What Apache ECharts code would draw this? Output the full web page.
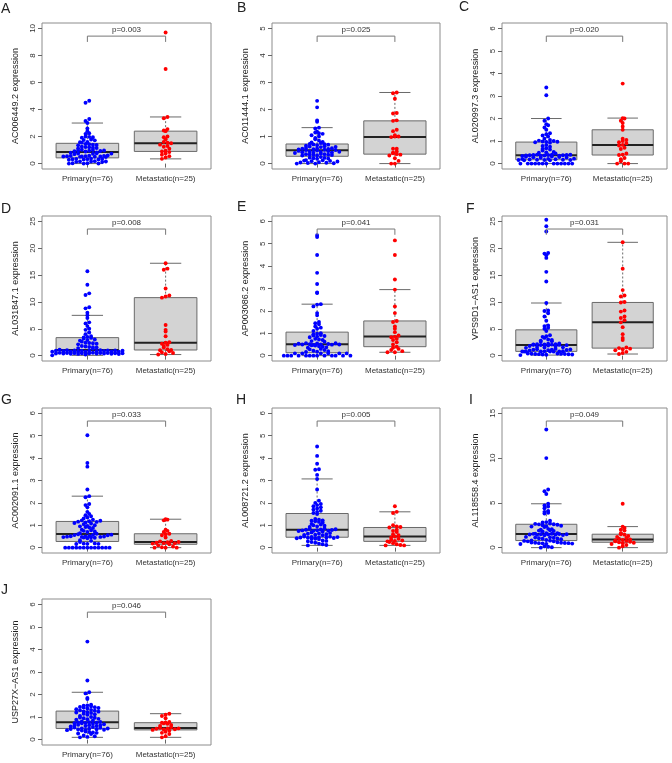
<!DOCTYPE html>
<html><head><meta charset="utf-8">
<script src="https://cdn.jsdelivr.net/npm/echarts@6/dist/echarts.min.js"></script>
<style>html,body{margin:0;padding:0;background:#fff}#c{width:672px;height:763px}</style>
</head><body><div id="c"></div>
<script>
// ---------------- DATA ----------------
const groupLabels = ['Primary(n=76)', 'Metastatic(n=25)'];
const panelLetters = ['A','B','C','D','E','F','G','H','I','J'];
const geneNames = ['AC006449.2','AC011444.1','AL020997.3','AL031847.1','AP003086.2','VPS9D1\u2212AS1','AC002091.1','AL008721.2','AL118558.4','USP27X\u2212AS1'];
const pValues = ['p=0.003','p=0.025','p=0.020','p=0.008','p=0.041','p=0.031','p=0.033','p=0.005','p=0.049','p=0.046'];
const yTicks = [
  [0,2,4,6,8,10],[0,1,2,3,4,5],[0,1,2,3,4,5,6],
  [0,5,10,15,20,25],[0,1,2,3,4,5,6],[0,5,10,15,20,25],
  [0,1,2,3,4,5,6],[0,1,2,3,4,5,6],[0,5,10,15],
  [0,1,2,3,4,5,6]
];

const primaryA = [0,0,0.01,0.02,0.03, 0.12,0.13,0.15,0.15,0.16,0.18, 0.28,0.3,0.31,0.32,0.33,0.34,0.35,0.37,
0.48,0.5,0.51,0.52,0.53,0.53,0.54,0.55,0.56,0.57,0.58,0.6, 0.7,0.72,0.74,0.75,0.77,0.8,0.83,
0.9,0.92,0.93,0.95,0.96,0.97,1.0,1.02, 1.12,1.15,1.18,1.2,1.22,1.25, 1.35,1.38,1.4,1.43,1.45,
1.55,1.58,1.6,1.72,1.75,1.78,1.92,1.95,1.98,2.0,2.2,2.25,2.4,2.6,3.0,3.15,3.3,4.5,4.65];
const metastaticA = [9.7,7.0,3.45,3.35,2.55,2.45,2.4,2.0,1.95,1.8,1.6,1.55,1.5,1.4,1.3,1.25,1.1,0.95,0.9,0.85,0.75,0.65,0.55,0.45,0.35];

const primaryB = [0,0,0.01,0.02,0.03,0.04,0.05, 0.08,0.09,0.1,0.11,0.12,0.13, 0.18,0.19,0.2,0.21,0.22,0.24,
0.3,0.31,0.32,0.32,0.33,0.34,0.35,0.35,0.36, 0.39,0.4,0.41,0.42,0.43,0.44,0.45,0.46,0.47,0.48,
0.5,0.5,0.51,0.52,0.53,0.54,0.55,0.56,0.57,0.58, 0.61,0.62,0.63,0.64,0.66,0.68, 0.7,0.71,0.72,0.73,
0.76,0.78,0.8,0.85,0.9,0.95,1.0,1.05,1.1,1.12,1.15,1.18,1.3,1.33,1.55,1.6,2.08,2.32];
const metastaticB = [2.63,2.6,2.4,1.87,1.85,1.6,1.58,1.25,1.2,1.05,1.0,1.0,0.98,0.55,0.55,0.45,0.4,0.38,0.35,0.33,0.3,0.2,0.1,0,0];

const primaryC = [0,0,0,0,0,0,0,0,0,0,0,0,0, 0.15,0.15,0.16,0.16,0.16,0.17,
0.17,0.18,0.19,0.2,0.21,0.22, 0.26,0.27,0.28,0.29,0.3,0.31,
0.34,0.35,0.35,0.36,0.36,0.37,0.37,0.38,0.38,0.38,0.39,0.39,0.4,
0.45,0.48,0.5,0.52, 0.58,0.62,0.65,0.68, 0.75,0.78,0.82, 0.93,0.95,0.96,0.97,0.98,1.0,
1.02,1.05,1.1,1.2,1.25,1.3,1.35,1.5,1.6,1.7,1.75,1.9,2.0,3.03,3.38];
const metastaticC = [3.55,2.02,2.0,1.9,1.8,1.65,1.5,1.1,1.05,1.0,0.95,0.9,0.83,0.8,0.7,0.65,0.45,0.4,0.38,0.25,0.2,0.1,0,0,0];

const primaryD = [0.05,0.2,0.3,0.32,0.35,0.36,0.38,0.4,0.4,0.41,0.42,0.43,0.44,0.45,0.46,0.47,0.48,0.5,0.52,0.55,
0.72,0.74,0.75,0.76,0.78,0.8, 0.85,0.87,0.88,0.9,0.92,0.93,0.94,0.95,0.96,0.98,1.0,1.02,
1.1,1.3,1.4,1.5,1.55,1.6,1.7,1.8, 2.1,2.2,2.3,2.35,2.4,2.6, 2.8,2.9,3.0,3.2,3.3,
3.4,3.5,3.6,4.0,4.3,4.8,5.0,5.5,6.0,6.2,7.0,7.5,8.0,8.8,9.0,11.3,11.6,13.2,15.7];
const metastaticD = [17.2,16.2,16.0,12.5,11.2,11.0,10.8,5.7,4.8,4.5,3.6,2.5,2.4,2.2,2.0,1.8,1.5,1.2,1.05,1.0,0.8,0.6,0.5,0.3,0.2];

const primaryE = [0,0,0,0,0,0,0,0,0,0,0,0,0, 0.1,0.1,0.1,0.1,0.1,0.1, 0.16,0.18,
0.2,0.22,0.25,0.28,0.3, 0.35,0.37,0.4,0.42,
0.45,0.46,0.47,0.48,0.49,0.5,0.5,0.5,0.51,0.52,0.53,0.54,0.55,0.56,
0.62,0.65,0.7,0.72,0.75, 0.82,0.85,0.88,0.9,0.92,0.95,0.98,1.0,
1.1,1.2,1.25,1.3,1.4,1.45,1.5,1.8,1.9,2.2,2.28,2.3,2.8,2.82,3.2,3.7,4.5,5.3,5.38];
const metastaticE = [5.15,4.5,3.4,2.95,2.2,1.9,1.55,1.5,1.3,1.2,1.05,0.9,0.85,0.82,0.75,0.7,0.6,0.5,0.4,0.35,0.3,0.25,0.2,0.15,0.15];

const primaryF = [0.1,0.15,0.2,0.22,0.25,0.28,0.3,0.3,0.32,0.35,0.38,0.4,
0.74,0.75,0.75,0.76,0.77,0.78,0.78,0.8,0.82, 0.95,1.0,1.05,1.1,1.12,1.15,1.2,1.25,
1.45,1.5,1.55,1.6,1.7,1.8, 1.9,1.95,1.98,2.0,2.02,2.05,2.08,2.1,2.12,2.15,2.2,2.25,
2.6,2.7,2.8,2.9,3.0, 3.3,3.5,3.6,3.8,
4.6,5.0,5.2,5.5,5.6,6.5,7.3,7.9,8.3,8.4,9.8,13.8,15.6,18.2,18.7,19.0,19.1,23.1,24.1,25.3];
const metastaticF = [21.1,16.2,12.2,11.2,11.0,10.0,9.9,8.4,8.2,7.3,7.0,6.6,6.2,5.3,4.0,3.3,2.9,1.5,1.4,1.3,1.2,1.0,0.7,0.5,0.3];

const primaryG = [0,0,0,0,0,0,0,0,0,0,0,0,0, 0.16,0.17,0.17,0.18,0.19, 0.25,0.3,0.33,
0.42,0.44,0.45,0.46,0.47,0.48,0.48,0.49,0.5,0.5,0.51,0.52, 0.55,0.56,0.57,0.58,0.6,0.62,0.64,
0.7,0.72,0.75,0.78,0.8, 0.88,0.9,0.92,0.95,0.97,1.0, 1.05,1.08,1.1,1.12,1.15,1.16,1.18,1.2,1.22,
1.25,1.3,1.35,1.4,1.45,1.5,1.6,1.8,1.9,1.95,2.25,2.3,2.6,3.62,3.78,5.02];
const metastaticG = [1.27,1.25,1.22,0.8,0.75,0.7,0.62,0.6,0.55,0.45,0.3,0.28,0.25,0.24,0.22,0.2,0.2,0.18,0.15,0.1,0.05,0.02,0,0,0];

const primaryH = [0.1,0.12,0.15,0.18, 0.22,0.25,0.28,0.3,0.32,
0.38,0.4,0.41,0.42,0.43,0.43,0.44,0.45,0.45,0.46,0.47,0.48,0.49,0.5,
0.55,0.57,0.58,0.6,0.62,0.63,0.65,0.68, 0.72,0.74,0.75,0.76,0.77,0.78,0.79,0.8,0.81,0.82,0.84,0.86,
0.92,0.95,0.98,1.0,1.03,1.06, 1.12,1.15,1.18,1.2,1.22,1.25,1.28, 1.5,1.55,
1.6,1.65,1.7,1.75,1.8,1.85,1.9,1.95,2.0,2.1,2.6,3.07,3.25,3.48,3.5,3.75,4.1,4.52];
const metastaticH = [1.85,1.6,1.55,1.0,0.95,0.92,0.9,0.8,0.75,0.7,0.6,0.55,0.5,0.45,0.4,0.35,0.32,0.3,0.28,0.25,0.2,0.15,0.12,0.1,0.1];

const primaryI = [0,0.05,0.1,0.15, 0.4,0.42,0.45,0.48,0.5,0.5,0.52,0.55,0.55,0.58,0.6, 0.7,0.72,0.75,0.78,0.8,0.85,
0.95,1.0,1.02,1.05,1.1,1.12,1.15,1.2,
1.38,1.4,1.42,1.45,1.46,1.48,1.5,1.5,1.52,1.54,1.55,1.57,1.6,1.62,
1.8,1.85,1.9,1.95,2.0,2.05,2.1, 2.3,2.35,2.4,2.45,2.5,2.55,2.6,2.62,2.65,2.7,
2.8,2.85,3.0,3.8,3.9,4.0,4.1,4.4,4.6,4.7,4.9,6.0,6.3,6.5,10.0,13.2];
const metastaticI = [4.9,2.35,2.2,2.0,1.9,1.6,1.5,1.45,1.3,1.2,1.1,1.0,0.9,0.85,0.8,0.75,0.7,0.65,0.6,0.55,0.5,0.4,0.3,0.15,0.0];

const primaryJ = [0.1,0.12,0.15,0.18, 0.25,0.27,0.3,0.32,0.34,0.36, 0.4,0.42,0.43,0.44,0.45,0.46,0.47,0.48,0.49,
0.5,0.52,0.54,0.56,0.58,0.6,0.6,0.62,0.63,0.64,0.66,0.68, 0.7,0.72,0.73,0.74,0.75,0.76,0.77,0.78,0.8,
0.85,0.88,0.9,0.92,0.95,0.97,0.98,1.0,1.05, 1.1,1.12,1.15,1.18,1.2,1.22,1.24,1.25,1.28,1.3,
1.32,1.35,1.38,1.4,1.42,1.44,1.45,1.48,1.5,1.52,1.55,1.8,1.85,2.05,2.1,2.62,4.35];
const metastaticJ = [1.15,1.1,1.05,0.95,0.78,0.76,0.75,0.72,0.7,0.65,0.6,0.55,0.52,0.5,0.5,0.48,0.46,0.45,0.43,0.4,0.35,0.3,0.25,0.15,0.1];

const primaryGroups = [primaryA,primaryB,primaryC,primaryD,primaryE,primaryF,primaryG,primaryH,primaryI,primaryJ];
const metastaticGroups = [metastaticA,metastaticB,metastaticC,metastaticD,metastaticE,metastaticF,metastaticG,metastaticH,metastaticI,metastaticJ];

// ---------------- LAYOUT / STYLE ----------------
const colLeft = [42, 272, 502];
const colWidth = [169, 168, 165];
const rowTop = [23, 216, 408, 599];
const rowHeight = [146, 145, 145, 146];
const letterPos = [[1,9],[237,8],[459,7],[1,209],[237,207],[466,209],[1,400],[236,400],[469,400],[1,590]];
const FONT = '"Liberation Sans", Arial, Helvetica, sans-serif';
const DOT_R = 1.95, BEE_SX = 3.7, BEE_HY = 3.5;
const COLORS = ['#0000FF', '#FF0000'];

function fivenum(arr){
  const x = [...arr].sort((a,b)=>a-b); const n = x.length;
  const n4 = Math.floor((n+3)/2)/2;
  const d = [1, n4, (n+1)/2, n+1-n4, n];
  return d.map(k => 0.5*(x[Math.floor(k)-1] + x[Math.ceil(k)-1]));
}
function boxStats(arr){
  const f = fivenum(arr); const iqr = f[3]-f[1];
  const lo = Math.min(...arr.filter(v => v >= f[1]-1.5*iqr));
  const hi = Math.max(...arr.filter(v => v <= f[3]+1.5*iqr));
  return [lo, f[1], f[2], f[3], hi];
}
function gcd(a,b){ return b ? gcd(b, a%b) : a; }
// beeswarm "center" layout: pixel-y bins of height hy, each bin's points centred in a row
function centerLayout(ys, sx, hy){
  const base = Math.max(...ys);
  const bins = new Map();
  ys.forEach((y,i) => { const b = Math.floor((base - y)/hy + 1e-6); if (!bins.has(b)) bins.set(b, []); bins.get(b).push(i); });
  const off = new Array(ys.length);
  for (const idx of bins.values()){
    idx.sort((a,b) => ys[b]-ys[a]);
    const n = idx.length;
    let s = Math.max(1, Math.round(n*0.38)); while (gcd(s,n) !== 1) s++;
    idx.forEach((pi,j) => { const k = (j*s) % n; off[pi] = (k - (n-1)/2)*sx; });
  }
  return off;
}

function renderBox(params, api){
  const gx = api.value(0);
  const lo = api.value(1), q1 = api.value(2), med = api.value(3), q3 = api.value(4), hi = api.value(5);
  const cx = api.coord([gx, med])[0];
  const Y = v => api.coord([gx, v])[1];
  const w = api.size([0.8, 0])[0];
  const cw = w/2;
  const wl = {stroke:'#6a6a6a', lineWidth:1, lineDash:[2,2]};
  const sl = {stroke:'#6a6a6a', lineWidth:1};
  return {type:'group', children:[
    {type:'line', shape:{x1:cx,y1:Y(q3),x2:cx,y2:Y(hi)}, style:wl},
    {type:'line', shape:{x1:cx,y1:Y(q1),x2:cx,y2:Y(lo)}, style:wl},
    {type:'line', shape:{x1:cx-cw/2,y1:Y(hi),x2:cx+cw/2,y2:Y(hi)}, style:sl},
    {type:'line', shape:{x1:cx-cw/2,y1:Y(lo),x2:cx+cw/2,y2:Y(lo)}, style:sl},
    {type:'rect', shape:{x:cx-w/2, y:Y(q3), width:w, height:Y(q1)-Y(q3)}, style:{fill:'#d3d3d3', stroke:'#6a6a6a', lineWidth:1}},
    {type:'line', shape:{x1:cx-w/2,y1:Y(med),x2:cx+w/2,y2:Y(med)}, style:{stroke:'#222', lineWidth:2}}
  ]};
}

const grids = [], xAxes = [], yAxes = [], series = [], graphics = [];
for (let i = 0; i < 10; i++){
  const r = Math.floor(i/3), c = i%3;
  const ticks = yTicks[i];
  const M = ticks[ticks.length-1];
  grids.push({left:colLeft[c], top:rowTop[r], width:colWidth[c], height:rowHeight[r], show:true, borderColor:'#8c8c8c', borderWidth:1, backgroundColor:'transparent'});
  xAxes.push({gridIndex:i, type:'value', min:0.42, max:2.58,
    axisLine:{show:false}, splitLine:{show:false},
    axisTick:{show:true, length:4, customValues:[1,2], lineStyle:{color:'#666'}},
    axisLabel:{show:true, customValues:[1,2], formatter:v=>groupLabels[Math.round(v)-1], fontSize:8, color:'#333', margin:6, fontFamily:FONT}});
  yAxes.push({gridIndex:i, type:'value', min:-0.04*M, max:1.04*M,
    name: geneNames[i] + ' expression', nameLocation:'middle', nameRotate:90, nameGap:22,
    nameTextStyle:{fontSize:9, color:'#222', fontFamily:FONT},
    axisLine:{show:false}, splitLine:{show:false},
    axisTick:{show:true, length:4, customValues:ticks, lineStyle:{color:'#666'}},
    axisLabel:{show:true, rotate:90, customValues:ticks, fontSize:8, color:'#333', margin:5, fontFamily:FONT}});
  const prim = primaryGroups[i], meta = metastaticGroups[i];
  series.push({type:'custom', xAxisIndex:i, yAxisIndex:i, z:2, silent:true,
    data:[[1, ...boxStats(prim)], [2, ...boxStats(meta)]],
    encode:{x:0, y:[1,2,3,4,5]}, renderItem:renderBox});
  [prim, meta].forEach((vals, g) => {
    const gx = g+1; let cache = null;
    series.push({type:'custom', xAxisIndex:i, yAxisIndex:i, z:3, silent:true,
      data: vals.map(v => [gx, v]), encode:{x:0, y:1},
      renderItem:(params, api) => {
        if (!cache){
          const cx = api.coord([gx, 0])[0];
          const ys = vals.map(v => api.coord([gx, v])[1]);
          const off = centerLayout(ys, BEE_SX, BEE_HY);
          cache = ys.map((y,k) => [cx+off[k], y]);
        }
        const p = cache[params.dataIndex];
        return {type:'circle', shape:{cx:p[0], cy:p[1], r:DOT_R}, style:{fill:COLORS[g]}};
      }});
  });
  series.push({type:'custom', xAxisIndex:i, yAxisIndex:i, z:4, silent:true,
    data:[[1.5, M]], encode:{x:0, y:1},
    renderItem:(params, api) => {
      const x1 = api.coord([1, 0])[0], x2 = api.coord([2, 0])[0];
      const yb = api.coord([1, M*0.943])[1], yt = api.coord([1, M*0.9])[1], ytx = api.coord([1, M*0.99])[1];
      return {type:'group', children:[
        {type:'polyline', shape:{points:[[x1,yt],[x1,yb],[x2,yb],[x2,yt]]}, style:{stroke:'#777', fill:null, lineWidth:1}},
        {type:'text', style:{text:pValues[i], x:(x1+x2)/2, y:ytx, align:'center', verticalAlign:'middle', fontSize:8, fontFamily:FONT, fill:'#333'}}
      ]};
    }});
  graphics.push({type:'text', left:letterPos[i][0], top:letterPos[i][1]-7, style:{text:panelLetters[i], fontSize:14, fontFamily:FONT, fill:'#222'}});
}

const chart = echarts.init(document.getElementById('c'), null, {renderer:'canvas', width:672, height:763});
chart.setOption({animation:false, backgroundColor:'#fff', grid:grids, xAxis:xAxes, yAxis:yAxes, series:series, graphic:graphics});
</script></body></html>
